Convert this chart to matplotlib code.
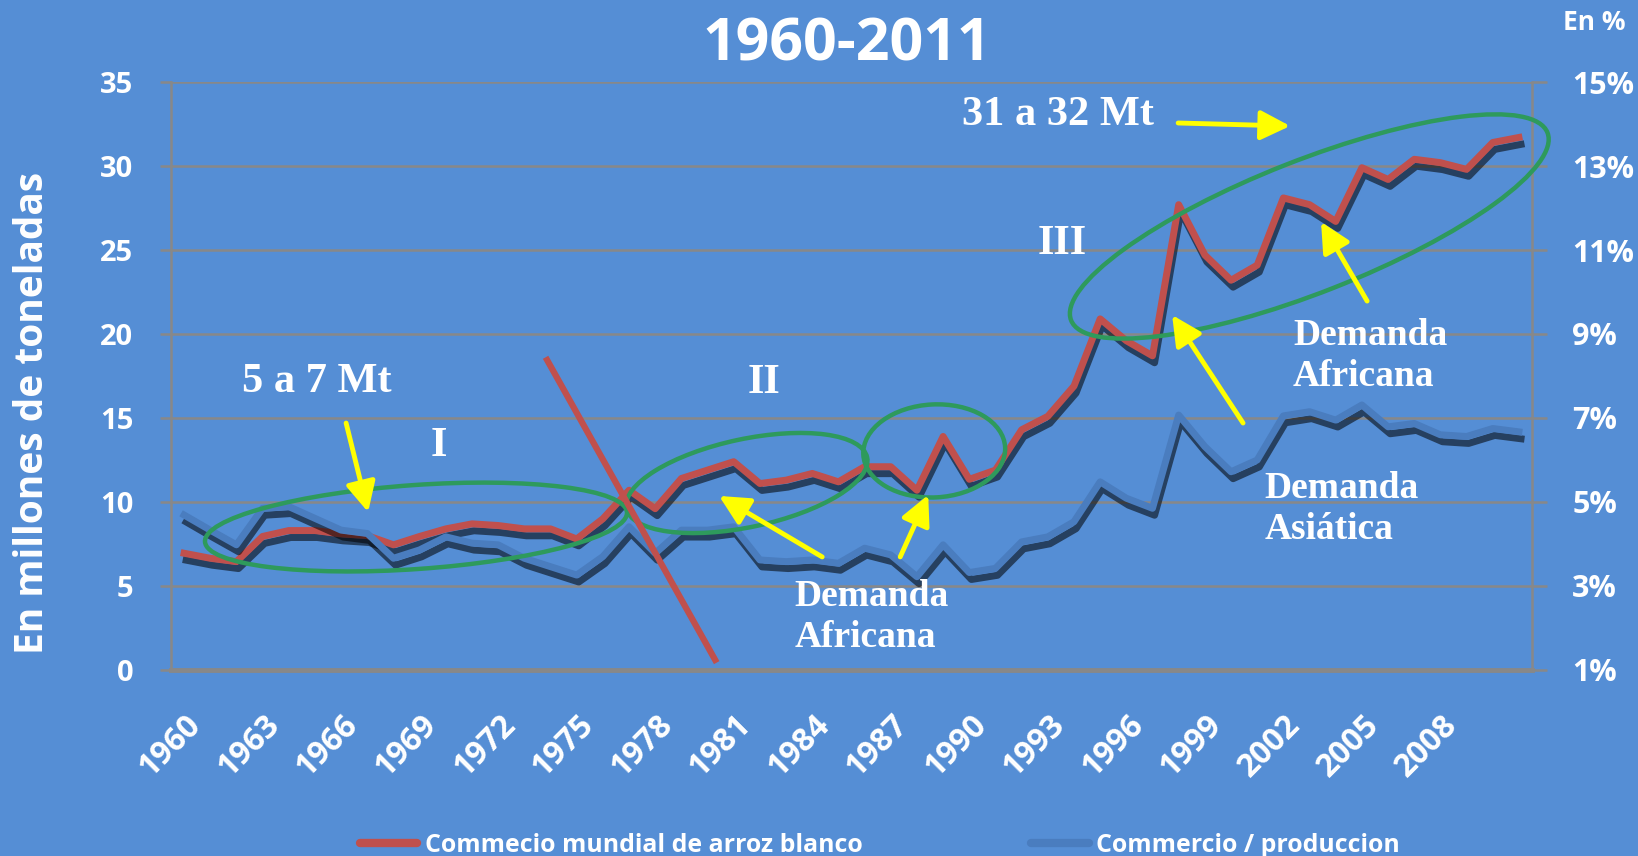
import numpy as np
import matplotlib
matplotlib.use('Agg')
import matplotlib.pyplot as plt
import matplotlib.patheffects as pe
import matplotlib.transforms as mtransforms
from matplotlib.patches import Ellipse
from matplotlib.lines import Line2D

# data
years = list(range(1960, 2012))
comercio_mt = [6.95, 6.65, 6.45, 7.95, 8.3, 8.3, 8.1, 8.0, 7.45, 7.95,
               8.4, 8.7, 8.6, 8.4, 8.4, 7.8, 9.0, 10.7, 9.6, 11.4,
               11.9, 12.4, 11.1, 11.3, 11.7, 11.2, 12.1, 12.1, 10.7, 13.9,
               11.35, 11.9, 14.3, 15.1, 16.9, 20.9, 19.6, 18.7, 27.7, 24.7,
               23.2, 24.1, 28.1, 27.7, 26.7, 29.9, 29.2, 30.4, 30.2, 29.8,
               31.4, 31.7]
comercio_pct = [4.69, 4.33, 3.98, 4.85, 4.89, 4.61, 4.33, 4.25, 3.66, 3.86,
                4.17, 4.02, 3.98, 3.66, 3.46, 3.26, 3.70, 4.41, 3.78, 4.33,
                4.33, 4.41, 3.62, 3.58, 3.62, 3.54, 3.90, 3.74, 3.22, 3.98,
                3.32, 3.42, 4.05, 4.17, 4.53, 5.48, 5.09, 4.85, 7.07, 6.32,
                5.72, 6.00, 7.05, 7.15, 6.95, 7.31, 6.79, 6.87, 6.60, 6.56,
                6.75, 6.67]
tick_idx = list(range(0, 51, 3))   # 1960 ... 2008
left_ticks = [0, 5, 10, 15, 20, 25, 30, 35]
right_ticks = [1, 3, 5, 7, 9, 11, 13, 15]
label_red = "Commecio mundial de arroz blanco"
label_blue = "Commercio / produccion"

BG = '#558ED5'
RED = '#C0504D'
BLUE = '#4A7DBF'
GREEN = '#2E9A5C'
GRID = '#888888'
YEL = '#FFFF00'
SANS = 'Open Sans'
SERIF = 'Liberation Serif'

fig = plt.figure(figsize=(16.38, 8.56), dpi=100, facecolor=BG)
ax = fig.add_axes([0.1044, 0.2173, 0.8309, 0.6869])
ax.set_facecolor(BG)
ax2 = ax.twinx()

x = np.arange(len(years))
shadow = [pe.SimpleLineShadow(offset=(1.5, -5), shadow_color='black', alpha=0.55), pe.Normal()]
ax.plot(x, comercio_mt, color=RED, lw=5, path_effects=shadow, zorder=4)
ax2.plot(x, comercio_pct, color=BLUE, lw=5, path_effects=shadow, zorder=3)

ax.set_xlim(-0.5, len(years) - 0.5)
ax.set_ylim(0, 35)
ax2.set_ylim(1, 15)
ax.set_yticks(left_ticks)
ax2.set_yticks(right_ticks)
ax2.set_yticklabels(['%d%%' % v for v in right_ticks])
ax.set_xticks(tick_idx)
ax.set_xticklabels([str(years[i]) for i in tick_idx], rotation=45, ha='right',
                   va='center', rotation_mode='anchor')

ax.yaxis.grid(True, color=GRID, lw=1.8)
ax.set_axisbelow(True)
for a in (ax, ax2):
    a.spines['top'].set_visible(False)
ax.spines['right'].set_visible(False)
ax2.spines['left'].set_visible(False)
ax2.spines['bottom'].set_visible(False)
ax.spines['left'].set_color(GRID)
ax.spines['left'].set_linewidth(1.8)
ax2.spines['right'].set_color(GRID)
ax2.spines['right'].set_linewidth(1.8)
ax.spines['bottom'].set_color(GRID)
ax.spines['bottom'].set_linewidth(3.5)

ax.tick_params(axis='y', length=8, width=1.8, color=GRID, pad=19,
               labelcolor='white', labelsize=21)
ax2.tick_params(axis='y', length=11, width=1.8, color=GRID, pad=18,
                labelcolor='white', labelsize=22)
ax.tick_params(axis='x', length=0, pad=36, labelcolor='white', labelsize=23)
for tl in ax.get_yticklabels() + ax2.get_yticklabels() + ax.get_xticklabels():
    tl.set_fontfamily(SANS)
    tl.set_fontweight('bold')
shift = mtransforms.ScaledTranslation(0.12, 0, fig.dpi_scale_trans)
for tl in ax.get_xticklabels():
    tl.set_transform(tl.get_transform() + shift)

# titles
fig.text(847 / 1638, 1 - 45 / 856, '1960-2011', color='white', fontsize=42.5,
         fontweight='bold', family=SANS, ha='center', va='center')
fig.text(1594 / 1638, 1 - 23 / 856, 'En %', color='white', fontsize=19,
         fontweight='bold', family=SANS, ha='center', va='center')
fig.text(33 / 1638, 1 - 413 / 856, 'En millones de toneladas', color='white',
         fontsize=28, fontweight='bold', family=SANS, rotation=90,
         ha='center', va='center')

# legend
h_red = Line2D([], [], color=RED, lw=6, solid_capstyle='round')
h_blue = Line2D([], [], color=BLUE, lw=6, solid_capstyle='round')
leg = fig.legend([h_red, h_blue], [label_red, label_blue], ncol=2, frameon=False,
                 loc='center left', bbox_to_anchor=(360 / 1638, 1 - 845 / 856),
                 borderpad=0, borderaxespad=0, handlelength=2.3,
                 handletextpad=0.3, columnspacing=6.8,
                 prop={'family': SANS, 'weight': 'bold', 'size': 17.9})
for t in leg.get_texts():
    t.set_color('white')

# annotations (data coords of the left axis)
td = ax.transData


def ellipse(cx, cy, w, h, angle):
    px, py = td.transform((cx, cy))
    e = Ellipse((px / fig.dpi, py / fig.dpi), w / fig.dpi, h / fig.dpi, angle=angle,
                transform=fig.dpi_scale_trans, fill=False, ec=GREEN, lw=3.2,
                clip_on=False, zorder=6)
    ax2.add_artist(e)


ellipse(8.86, 8.51, 423, 84, 4)
ellipse(21.5, 11.13, 246, 88, 12)
ellipse(28.66, 13.04, 142, 93, 3)
ellipse(42.99, 26.4, 512, 132, 21.5)

slash_x = [13.87, 20.29]
slash_y = [18.45, 0.6]
ax2.add_artist(Line2D(slash_x, slash_y, color=RED, lw=4.5, transform=td, zorder=7))

arrows = [((6.19, 14.70), (7.03, 9.40)),
          ((24.38, 6.73), (20.44, 10.36)),
          ((27.36, 6.73), (28.43, 10.42)),
          ((40.46, 14.70), (37.75, 21.13)),
          ((45.20, 21.96), (43.44, 26.67)),
          ((37.98, 32.56), (42.26, 32.38))]
for start, end in arrows:
    ax2.annotate('', xy=end, xytext=start, xycoords=td, textcoords=td,
                 arrowprops=dict(arrowstyle='-|>,head_length=0.9,head_width=0.45',
                                 color=YEL, lw=3.5, mutation_scale=20,
                                 shrinkA=0, shrinkB=0), zorder=8)

big = dict(color='white', fontsize=30.5, fontweight='bold', family=SERIF,
           transform=td, ha='center', va='center', zorder=9)
ax2.text(5.08, 17.14, '5 a 7 Mt', **big)
ax2.text(9.74, 13.33, 'I', **big)
ax2.text(22.16, 17.08, 'II', **big)
ax2.text(33.55, 25.36, 'III', **big)
ax2.text(33.39, 33.04, '31 a 32 Mt', **big)

mid = dict(color='white', fontsize=27, fontweight='bold', family=SERIF,
           transform=td, ha='left', va='center', linespacing=1.25, zorder=9)
ax2.text(23.31, 3.15, 'Demanda\nAfricana', **mid)
ax2.text(42.37, 18.69, 'Demanda\nAfricana', **mid)
ax2.text(41.27, 9.58, 'Demanda\nAsiática', **mid)

fig.savefig('out.png', dpi=100, facecolor=BG)
